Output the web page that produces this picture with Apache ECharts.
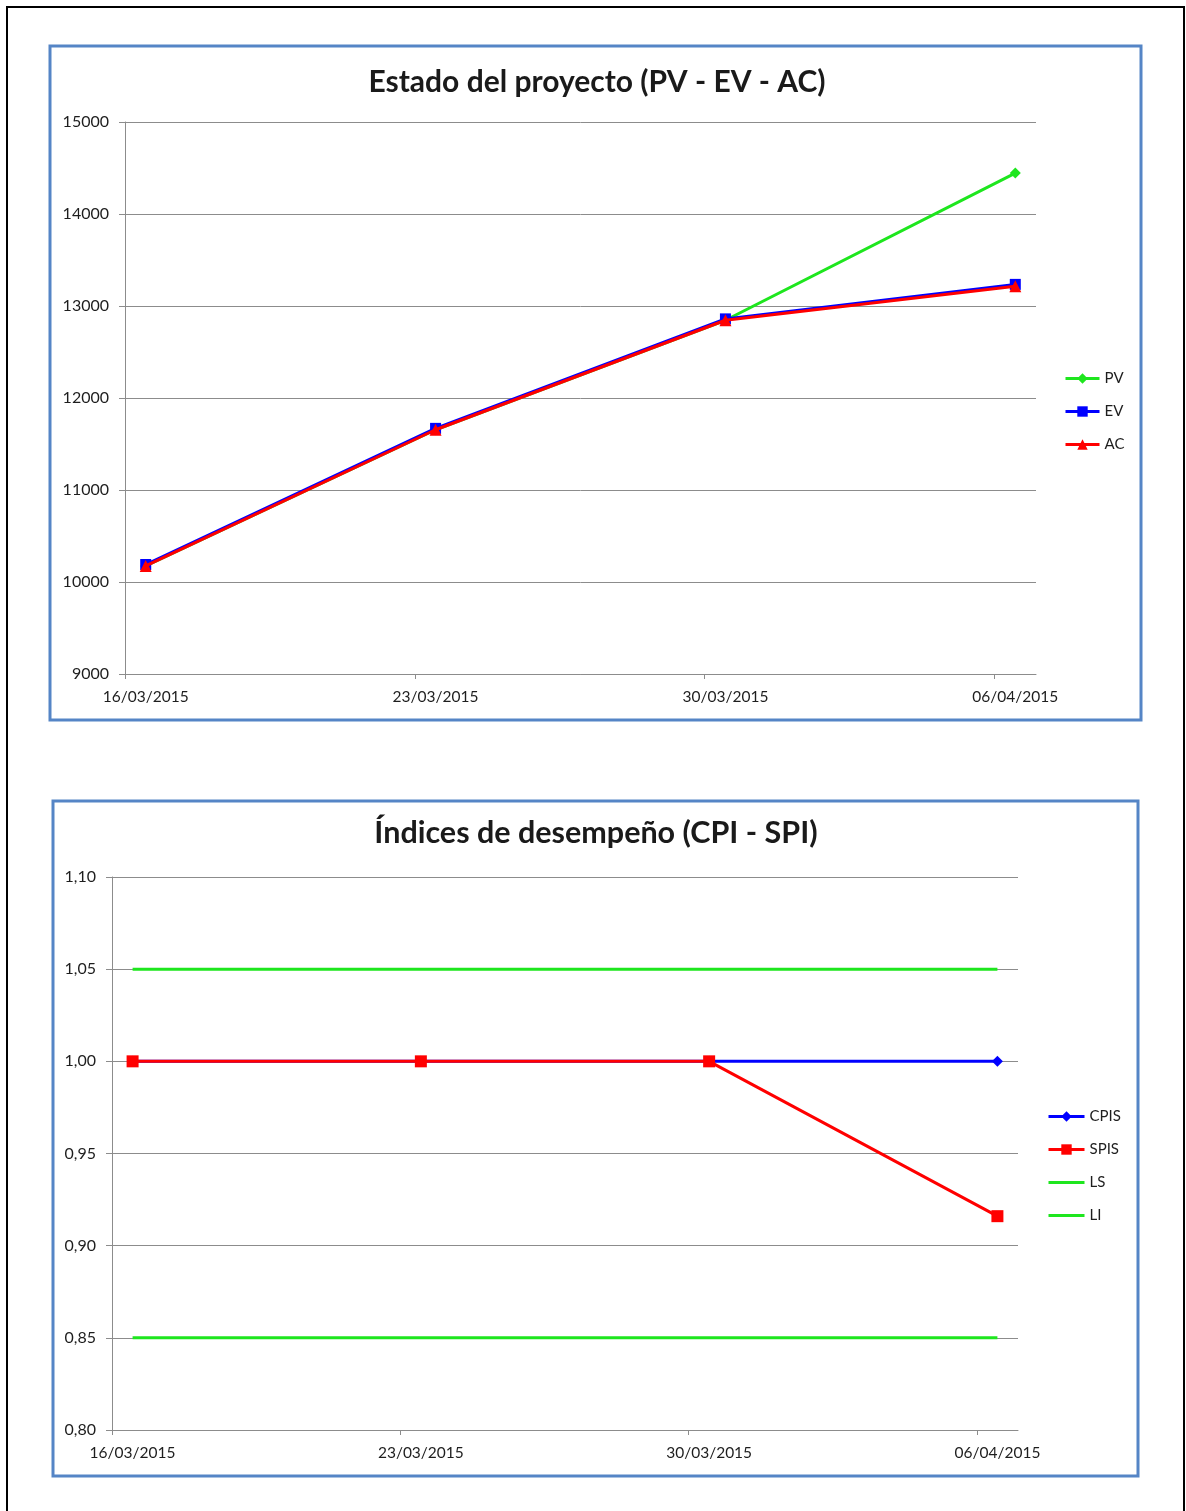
<!DOCTYPE html>
<html>
<head>
<meta charset="utf-8">
<style>
  html, body { margin: 0; padding: 0; background: #ffffff; }
  #main { width: 1186px; height: 1511px; }
</style>
<script src="https://cdn.jsdelivr.net/npm/echarts@6/dist/echarts.min.js"></script>
</head>
<body>
<div id="main"></div>
<script>
// Fechas de corte semanales y su desplazamiento en días desde el inicio
const fechas = ['16/03/2015', '23/03/2015', '30/03/2015', '06/04/2015'];
const dias = [0, 7, 14, 21];

// Valor planificado, valor ganado y coste real
const PV = [10175, 11655, 12845, 14445];
const EV = [10190, 11670, 12860, 13235];
const AC = [10175, 11655, 12845, 13215];

// Índices de desempeño y límites de control
const CPIS = [1.00, 1.00, 1.00, 1.00];
const SPIS = [1.00, 1.00, 1.00, 0.916];
const LS = [1.05, 1.05, 1.05, 1.05];
const LI = [0.85, 0.85, 0.85, 0.85];

// Marcas del eje Y
const ticksValor = [9000, 10000, 11000, 12000, 13000, 14000, 15000];
const ticksIndice = [0.80, 0.85, 0.90, 0.95, 1.00, 1.05, 1.10];

const FONT = 'Lato, "Noto Sans", sans-serif';
const GREEN = '#1EE61E';
const BLUE = '#0000FF';
const RED = '#FF0000';
const GRID_COLOR = '#8C8C8C';
const TEXT_COLOR = '#1E1E1E';

const pares = (vals) => dias.map((d, i) => [d, vals[i]]);

function ejeX(gridIndex) {
  return {
    type: 'value',
    gridIndex,
    min: -0.5,
    max: 21.5,
    axisLine: { show: true, onZero: false, lineStyle: { color: GRID_COLOR, width: 1 } },
    axisTick: { show: true, length: 5, customValues: dias.map(d => d - 0.5), lineStyle: { color: GRID_COLOR } },
    splitLine: { show: false },
    axisLabel: {
      customValues: dias,
      margin: 15,
      color: TEXT_COLOR,
      fontFamily: FONT,
      fontSize: 15.5,
      formatter: (v) => fechas[dias.indexOf(Math.round(v))] || ''
    }
  };
}

function ejeY(gridIndex, ticks, fmt) {
  const paso = ticks[1] - ticks[0];
  return {
    type: 'value',
    gridIndex,
    min: ticks[0],
    max: ticks[ticks.length - 1],
    interval: paso,
    axisLine: { show: true, onZero: false, lineStyle: { color: GRID_COLOR, width: 1 } },
    axisTick: { show: true, length: 6, lineStyle: { color: GRID_COLOR } },
    splitLine: { show: true, lineStyle: { color: GRID_COLOR, width: 1 } },
    axisLabel: {
      margin: 16,
      color: TEXT_COLOR,
      fontFamily: FONT,
      fontSize: 16,
      formatter: fmt
    }
  };
}

function serie(name, vals, color, symbol, size, x, z) {
  return {
    name,
    type: 'line',
    xAxisIndex: x,
    yAxisIndex: x,
    data: pares(vals),
    symbol,
    symbolSize: size,
    showSymbol: symbol !== 'none',
    lineStyle: { color, width: 3 },
    itemStyle: { color, borderWidth: 0 },
    emphasis: { disabled: true },
    animation: false,
    z
  };
}

const textoLeyenda = { fontFamily: FONT, fontSize: 15, color: TEXT_COLOR };

const chart = echarts.init(document.getElementById('main'), null, { renderer: 'canvas' });

chart.setOption({
  backgroundColor: '#ffffff',
  animation: false,
  title: [
    {
      text: 'Estado del proyecto (PV - EV - AC)',
      left: 592, top: 62, textAlign: 'center',
      textStyle: { fontFamily: FONT, fontWeight: 'bold', fontSize: 30, color: '#1a1a1a' }
    },
    {
      text: 'Índices de desempeño (CPI - SPI)',
      left: 591, top: 813, textAlign: 'center',
      textStyle: { fontFamily: FONT, fontWeight: 'bold', fontSize: 30.5, color: '#1a1a1a' }
    }
  ],
  graphic: [
    { type: 'rect', shape: { x: 7, y: 7, width: 1177, height: 1520 }, style: { fill: 'none', stroke: '#000000', lineWidth: 2 }, silent: true },
    { type: 'rect', shape: { x: 50, y: 46, width: 1091, height: 674 }, style: { fill: 'none', stroke: '#5585C6', lineWidth: 3 }, silent: true },
    { type: 'rect', shape: { x: 53, y: 801, width: 1085, height: 675 }, style: { fill: 'none', stroke: '#5585C6', lineWidth: 3 }, silent: true }
  ],
  grid: [
    { left: 125, top: 122, width: 911, height: 552 },
    { left: 112, top: 877, width: 906, height: 553 }
  ],
  legend: [
    {
      orient: 'vertical', left: 1059, top: 366,
      itemWidth: 34, itemHeight: 13, itemGap: 18,
      lineStyle: { width: 3 },
      data: ['PV', 'EV', 'AC'],
      textStyle: textoLeyenda,
      selectedMode: false
    },
    {
      orient: 'vertical', left: 1042, top: 1104,
      itemWidth: 36, itemHeight: 13, itemGap: 18,
      lineStyle: { width: 3 },
      data: [
        'CPIS',
        'SPIS',
        { name: 'LS', itemStyle: { opacity: 0 } },
        { name: 'LI', itemStyle: { opacity: 0 } }
      ],
      textStyle: textoLeyenda,
      selectedMode: false
    }
  ],
  xAxis: [ejeX(0), ejeX(1)],
  yAxis: [
    ejeY(0, ticksValor, (v) => String(v)),
    ejeY(1, ticksIndice, (v) => v.toFixed(2).replace('.', ','))
  ],
  series: [
    serie('PV', PV, GREEN, 'diamond', 11, 0, 2),
    serie('EV', EV, BLUE, 'rect', 11, 0, 3),
    serie('AC', AC, RED, 'triangle', 12, 0, 4),
    serie('LS', LS, GREEN, 'none', 0, 1, 2),
    serie('LI', LI, GREEN, 'none', 0, 1, 2),
    serie('CPIS', CPIS, BLUE, 'diamond', 11, 1, 3),
    serie('SPIS', SPIS, RED, 'rect', 12, 1, 4)
  ]
});
</script>
</body>
</html>
